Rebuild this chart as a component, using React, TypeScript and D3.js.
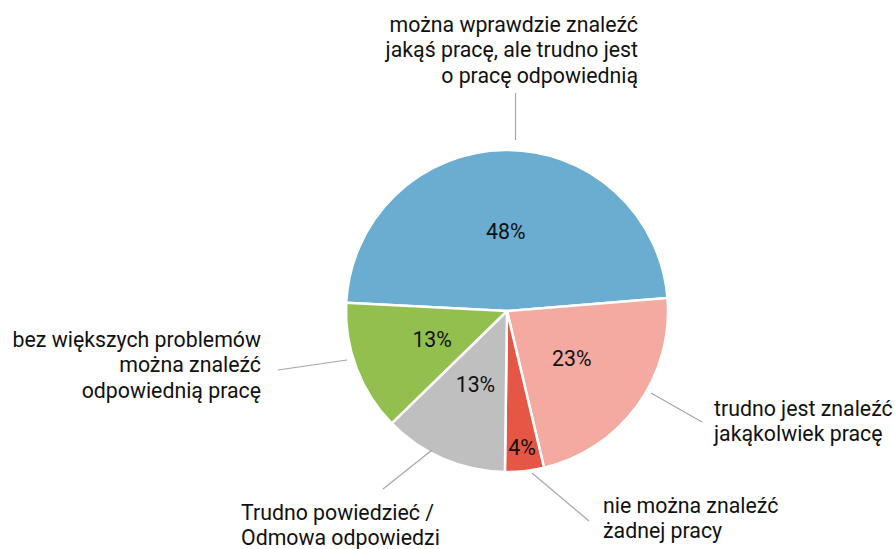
import React from "react";
import * as d3 from "d3";

const categories = [
  "można wprawdzie znaleźć jakąś pracę, ale trudno jest o pracę odpowiednią",
  "trudno jest znaleźć jakąkolwiek pracę",
  "nie można znaleźć żadnej pracy",
  "Trudno powiedzieć / Odmowa odpowiedzi",
  "bez większych problemów można znaleźć odpowiednią pracę",
];
const values = [47.9, 22.6, 3.9, 12.5, 13.1];
const colors = ["#6BADD0", "#F4A9A1", "#E55645", "#BFBFBF", "#93BF4F"];

// label layout (lines, anchor, position, leader line)
const labelLines = [
  ["można wprawdzie znaleźć", "jakąś pracę, ale trudno jest", "o pracę odpowiednią"],
  ["trudno jest znaleźć", "jakąkolwiek pracę"],
  ["nie można znaleźć", "żadnej pracy"],
  ["Trudno powiedzieć /", "Odmowa odpowiedzi"],
  ["bez większych problemów", "można znaleźć", "odpowiednią pracę"],
];
const labelLayout = [
  { x: 638, y: 32, anchor: "end", line: [515.5, 93, 515.5, 140] },
  { x: 714, y: 416, anchor: "start", line: [702, 422, 651, 393] },
  { x: 603, y: 513, anchor: "start", line: [589, 521, 532, 473] },
  { x: 241, y: 520, anchor: "start", line: [383, 489, 432, 450] },
  { x: 261, y: 347, anchor: "end", line: [278, 370, 347, 360] },
];

const W = 895;
const H = 549;
const cx = 507;
const cy = 311;
const R = 161;
const startDeg = -87.1;

export default function App() {
  const pie = d3
    .pie<number>()
    .sort(null)
    .value((d) => d)
    .startAngle((startDeg * Math.PI) / 180)
    .endAngle((startDeg * Math.PI) / 180 + 2 * Math.PI);
  const arcs = pie(values);
  const arc = d3.arc<d3.PieArcDatum<number>>().innerRadius(0).outerRadius(R);
  const font = "Roboto, sans-serif";
  const fs = 21.3;
  return (
    <svg
      width={W}
      height={H}
      style={{ position: "absolute", left: 0, top: 0, background: "#fff" }}
    >
      <g transform={`translate(${cx},${cy})`}>
        {arcs.map((a, i) => (
          <path key={i} d={arc(a) || ""} fill={colors[i]} stroke="#fff" strokeWidth={2.5} strokeLinejoin="round" />
        ))}
        {arcs.map((a, i) => {
          const mid = (a.startAngle + a.endAngle) / 2;
          const rr = a.value < 5 ? 137 : 80;
          const x = Math.sin(mid) * rr;
          const y = -Math.cos(mid) * rr;
          return (
            <text
              key={i}
              x={x}
              y={y}
              dy="0.36em"
              textAnchor="middle"
              fontFamily={font}
              fontSize={fs}
              fill="#111"
            >
              {Math.round(a.value)}%
            </text>
          );
        })}
      </g>
      {labelLayout.map((l, i) => (
        <g key={i}>
          <line
            x1={l.line[0]}
            y1={l.line[1]}
            x2={l.line[2]}
            y2={l.line[3]}
            stroke="#A6A6A6"
            strokeWidth={1.2}
          />
          <text
            x={l.x}
            y={l.y}
            textAnchor={l.anchor as any}
            fontFamily={font}
            fontSize={fs}
            fill="#111"
          >
            {labelLines[i].map((s, j) => (
              <tspan key={j} x={l.x} dy={j === 0 ? 0 : 25.3}>
                {s}
              </tspan>
            ))}
          </text>
        </g>
      ))}
    </svg>
  );
}
